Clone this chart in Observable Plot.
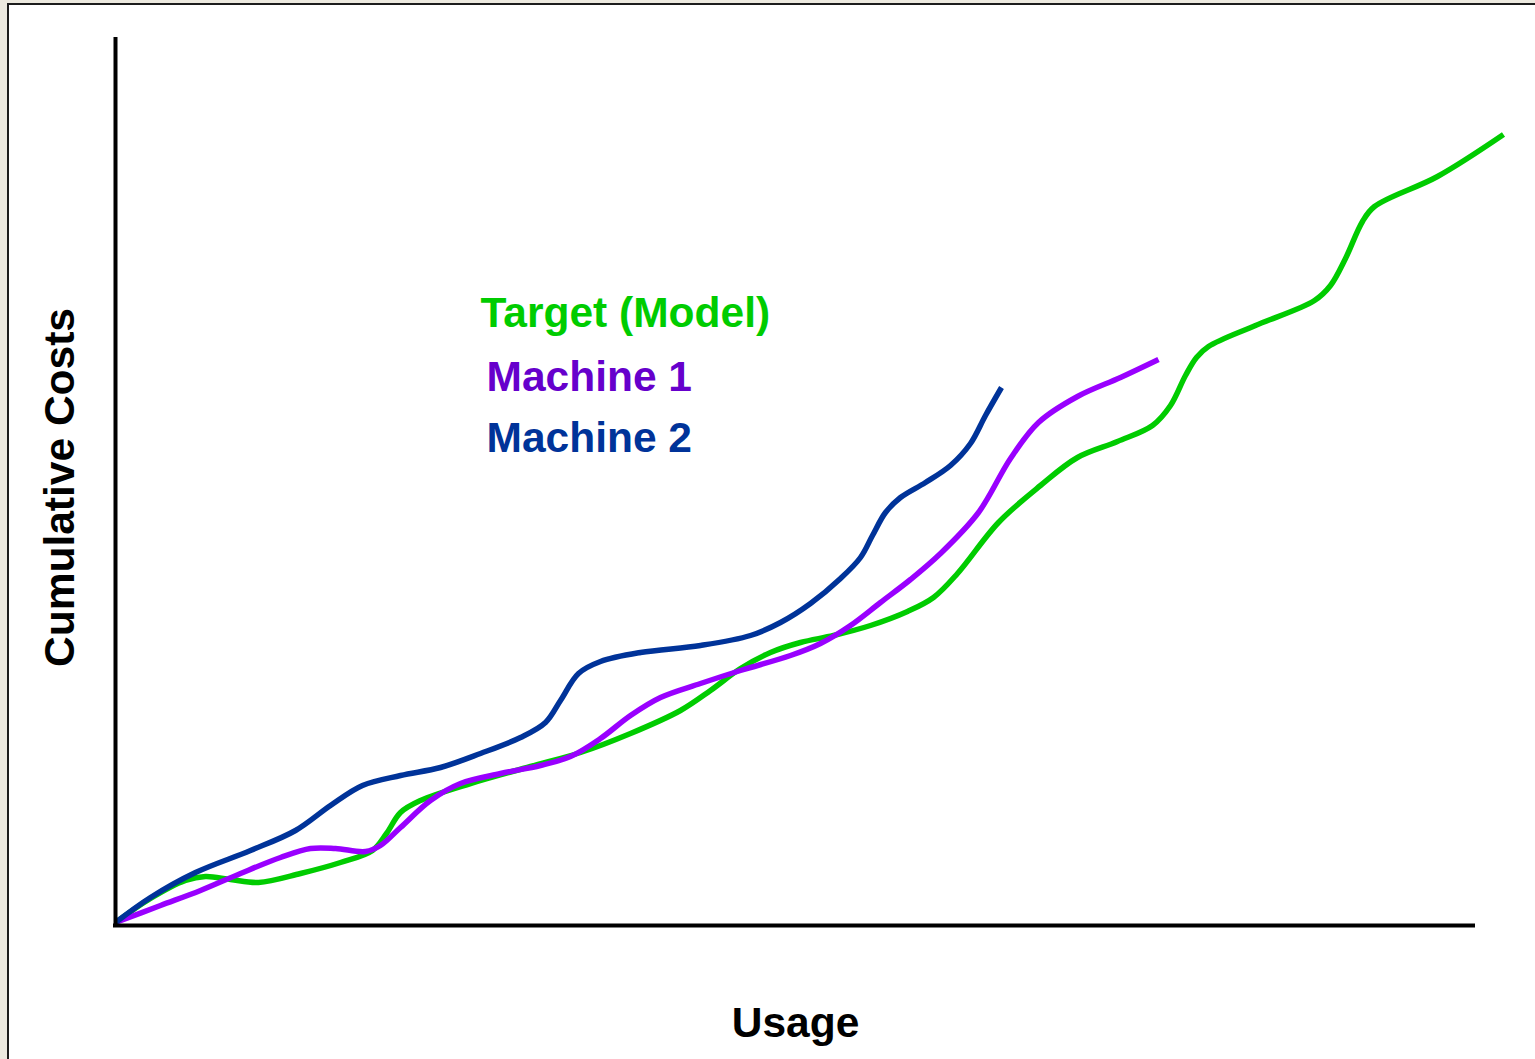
<!DOCTYPE html>
<html>
<head>
<meta charset="utf-8">
<script src="https://cdn.jsdelivr.net/npm/d3@7"></script>
<script src="https://cdn.jsdelivr.net/npm/@observablehq/plot@0.6"></script>
<style>
  html, body { margin: 0; padding: 0; width: 1535px; height: 1059px; overflow: hidden; background: #ECE9DF; }
  #frame { position: absolute; left: 7px; top: 3px; width: 1600px; height: 1100px; background: #fff;
           border-left: 2px solid #1c1c1c; border-top: 2px solid #1c1c1c; }
  #chart { position: absolute; left: 0; top: 0; }
</style>
</head>
<body>
<div id="frame"></div>
<div id="chart"></div>
<script>
// Usage (x) and cumulative cost (y), arbitrary units
const targetX   = [0,35,70,90,115,143,185,225,257,271,285,305,355,415,465,515,565,595,625,655,685,718,755,792,818,842,883,925,962,1002,1037,1055,1070,1081,1093,1140,1199,1215,1230,1247,1259,1322,1388];
const targetY   = [3,27,45,49,46,43,52,63,75,92,113,125,142,159,173,192,215,235,257,273,283,290,300,314,328,352,403,440,468,484,500,520,550,568,579,600,625,640,667,704,719,749,791];
const machine1X = [0,45,85,125,165,195,220,250,265,285,315,345,385,425,455,485,515,545,585,625,675,705,735,765,795,825,863,895,923,962,1005,1043];
const machine1Y = [3,20,35,52,68,77,77,74,80,98,125,142,152,160,169,187,210,228,242,255,270,282,300,323,346,372,413,467,503,529,548,566];
const machine2X = [0,35,80,135,180,215,247,285,325,365,405,430,445,463,485,525,585,635,665,695,725,745,757,770,785,810,835,855,870,886];
const machine2Y = [3,28,53,75,95,120,140,150,158,172,188,203,225,252,264,273,280,290,303,322,347,368,390,413,428,443,460,482,510,538];

const seriesNames  = ["Target (Model)", "Machine 1", "Machine 2"];
const lineColors   = ["#00CC00", "#9900FF", "#003399"];
const labelColors  = ["#00CC00", "#6600CC", "#003399"];
const xLabel = "Usage";
const yLabel = "Cumulative Costs";

const toRows = (xs, ys, s) => xs.map((x, i) => ({x, y: ys[i], series: s}));
const rows = [
  ...toRows(targetX, targetY, seriesNames[0]),
  ...toRows(machine1X, machine1Y, seriesNames[1]),
  ...toRows(machine2X, machine2Y, seriesNames[2])
];

const font = "'Liberation Sans', Arial, Helvetica, sans-serif";
const legendDx = [365, 371, 371];
const legendDy = [278, 342, 403];

const chart = Plot.plot({
  width: 1535,
  height: 1059,
  marginLeft: 115,
  marginRight: 60,
  marginTop: 35,
  marginBottom: 134,
  style: {background: "transparent", fontFamily: font},
  x: {domain: [0, 1360], axis: null},
  y: {domain: [0, 890], axis: null},
  color: {domain: seriesNames, range: lineColors},
  marks: [
    Plot.line(rows, {x: "x", y: "y", z: "series", stroke: "series", strokeWidth: 5.5,
                     curve: "catmull-rom", strokeLinecap: "butt", strokeLinejoin: "round"}),
    Plot.ruleX([0], {stroke: "#000", strokeWidth: 4, y1: 0, y2: 890, insetBottom: -2}),
    Plot.ruleY([0], {stroke: "#000", strokeWidth: 4, x1: 0, x2: 1360, insetLeft: -2}),
    ...seriesNames.map((name, i) => Plot.text([name], {
      frameAnchor: "top-left", dx: legendDx[i], dy: legendDy[i],
      textAnchor: "start", lineAnchor: "middle",
      fill: labelColors[i], fontSize: 42.5, fontWeight: "bold", fontFamily: font
    })),
    Plot.text([yLabel], {frameAnchor: "left", dx: -55, dy: 7, rotate: -90,
      textAnchor: "middle", lineAnchor: "middle", fill: "#000", fontSize: 42.5, fontWeight: "bold", fontFamily: font}),
    Plot.text([xLabel], {frameAnchor: "bottom", dy: 98,
      textAnchor: "middle", lineAnchor: "middle", fill: "#000", fontSize: 42.5, fontWeight: "bold", fontFamily: font})
  ]
});
document.getElementById("chart").appendChild(chart);
</script>
</body>
</html>
